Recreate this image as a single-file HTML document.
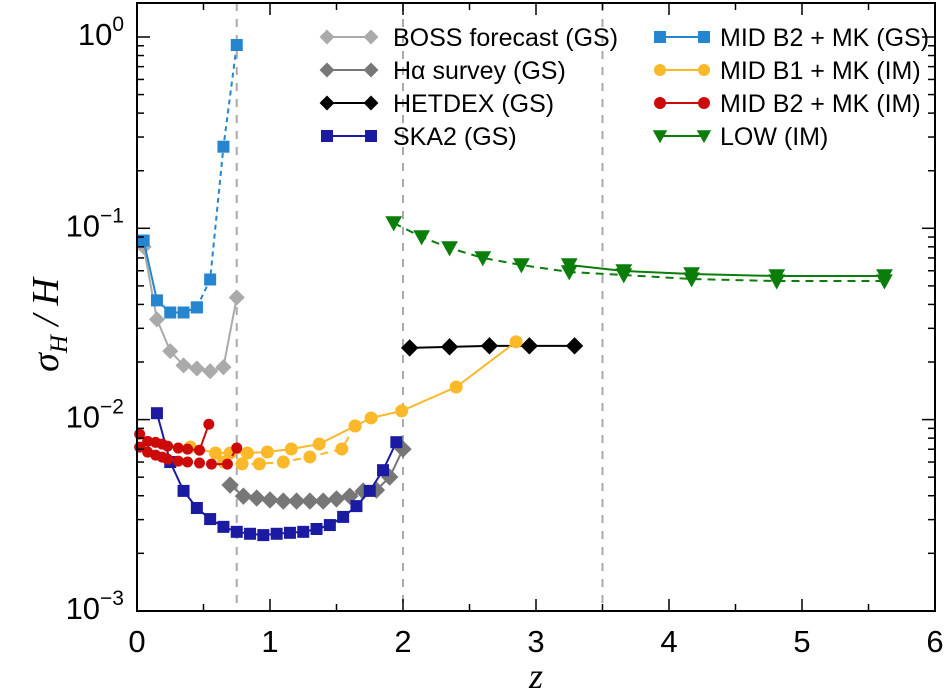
<!DOCTYPE html>
<html><head><meta charset="utf-8"><style>
html,body{margin:0;padding:0;background:#fff;}
svg{display:block;font-family:"Liberation Sans",sans-serif;}
</style></head><body>
<svg id="chart" width="952" height="696" viewBox="0 0 952 696" xmlns="http://www.w3.org/2000/svg">
<g id="grid"></g><g id="series"></g><g id="axes"></g><g id="legend"></g>
<text transform="translate(58,325) rotate(-90)" text-anchor="middle" font-family="Liberation Serif,serif" font-style="italic" font-size="38">σ<tspan font-size="25" dy="9">H</tspan><tspan dy="-9"> / H</tspan></text>
<text x="536" y="688" text-anchor="middle" font-family="Liberation Serif,serif" font-style="italic" font-size="36">z</text>
</svg>
<script>
const xTicks=[0,1,2,3,4,5,6];
const yTickExp=[0,-1,-2,-3];
const vLines=[0.75,2,3.5];
const bossZ=[0.05,0.15,0.25,0.35,0.45,0.55,0.65,0.75];
const bossV=[0.08,0.0334,0.0228,0.0192,0.0185,0.0179,0.0188,0.0435];
const haZ=[0.7,0.8,0.9,1.0,1.1,1.2,1.3,1.4,1.5,1.6,1.7,1.8,1.9,2.0];
const haV=[0.00455,0.00398,0.00389,0.0038,0.00375,0.00375,0.00375,0.00375,0.00385,0.00398,0.00423,0.00428,0.00501,0.00701];
const hetZ=[2.05,2.35,2.65,2.95,3.29];
const hetV=[0.0237,0.0240,0.0243,0.0243,0.0243];
const skaZ=[0.15,0.25,0.35,0.45,0.55,0.65,0.75,0.85,0.95,1.05,1.15,1.25,1.35,1.45,1.55,1.65,1.75,1.85,1.95];
const skaV=[0.0108,0.0060,0.00424,0.00345,0.00302,0.00275,0.00259,0.00253,0.00249,0.00253,0.00256,0.00259,0.00268,0.00281,0.0031,0.00353,0.00424,0.00544,0.00762];
const midGsZ=[0.05,0.15,0.25,0.35,0.45,0.55,0.65,0.75];
const midGsV=[0.0863,0.042,0.0363,0.0363,0.0386,0.054,0.267,0.908];
const b1Z=[0.40,0.59,0.70,0.83,0.98,1.16,1.37,1.64,1.76,1.99,2.40,2.85];
const b1V=[0.00719,0.00669,0.00669,0.00669,0.00677,0.00702,0.00745,0.00926,0.0102,0.0111,0.0148,0.0255];
const b1dZ=[0.65,0.79,0.92,1.10,1.30,1.54,1.64];
const b1dV=[0.0060,0.00587,0.00587,0.0060,0.00638,0.00702,0.00926];
const b2Z=[0.02,0.08,0.14,0.19,0.23,0.31,0.38,0.47,0.54];
const b2V=[0.0084,0.0077,0.0076,0.00744,0.00727,0.0071,0.00701,0.00692,0.00946];
const b2dZ=[0.02,0.08,0.14,0.19,0.23,0.31,0.38,0.47,0.56,0.68,0.75];
const b2dV=[0.00718,0.00676,0.00652,0.00637,0.00621,0.00607,0.0060,0.00593,0.00585,0.00585,0.0071];
const lowZ=[3.25,3.66,4.17,4.81,5.62];
const lowV=[0.0643,0.0598,0.0577,0.0563,0.0563];
const lowdZ=[1.93,2.14,2.35,2.60,2.89,3.25,3.66,4.17,4.81,5.62];
const lowdV=[0.1066,0.0901,0.0789,0.0700,0.0643,0.0591,0.0570,0.0543,0.0530,0.0530];

const X0=137,X1=935,Y0=37,DEC=191.3,YB=611,YT=3;
const sx=z=>X0+(X1-X0)*z/6;
const sy=v=>Y0-Math.log10(v)*DEC;
const NS="http://www.w3.org/2000/svg";
function mk(tag,attrs,parent){const e=document.createElementNS(NS,tag);for(const k in attrs)e.setAttribute(k,attrs[k]);parent.appendChild(e);return e;}
const G=document.getElementById('grid'),S=document.getElementById('series'),A=document.getElementById('axes'),L=document.getElementById('legend');

vLines.forEach(z=>{const l=mk('line',{x1:sx(z),x2:sx(z),y1:YT,y2:YB,stroke:'#aaa','stroke-width':2,'stroke-dasharray':'8,8'},G);

});

function marker(type,x,y,color,g,s){
 let e;
 if(type==='sq')e=mk('rect',{x:x-s/2,y:y-s/2,width:s,height:s,fill:color},g);
 else if(type==='ci')e=mk('circle',{cx:x,cy:y,r:s/2,fill:color},g);
 else if(type==='di'){const h=s*0.62;e=mk('polygon',{points:`${x},${y-h} ${x+h},${y} ${x},${y+h} ${x-h},${y}`,fill:color},g);}
 else {const h=s*0.6;e=mk('polygon',{points:`${x-h},${y-h*0.8} ${x+h},${y-h*0.8} ${x},${y+h}`,fill:color},g);}
 return e;
}
function series(name,zs,vs,color,type,dash,s){
 const g=mk('g',{},S);
 
 
 const pts=zs.map((z,i)=>sx(z)+','+sy(vs[i])).join(' ');
 const p=mk('polyline',{points:pts,fill:'none',stroke:color,'stroke-width':2},g);
 if(dash)p.setAttribute('stroke-dasharray',dash);
 
 
 zs.forEach((z,i)=>{const m=marker(type,sx(z),sy(vs[i]),color,g,s);
  
  });
}
series('boss-forecast',bossZ,bossV,'#aaaaaa','di',null,13);
series('halpha-survey',haZ,haV,'#777777','di',null,14);
series('hetdex',hetZ,hetV,'#000000','di',null,14);
series('ska2',skaZ,skaV,'#1a1aa3','sq',null,12);
series('mid-b2-mk-gs',midGsZ.slice(0,5),midGsV.slice(0,5),'#2585cf','sq',null,12);
series('mid-b2-mk-gs-dashed',midGsZ.slice(4),midGsV.slice(4),'#2585cf','sq','5,4',12);
series('mid-b1-mk-im-dashed',b1dZ,b1dV,'#fbb829','ci','8,6',13);
series('mid-b1-mk-im',b1Z,b1V,'#fbb829','ci',null,13);
series('mid-b2-mk-im-dashed',b2dZ,b2dV,'#cc0a0a','ci','6,4',11);
series('mid-b2-mk-im',b2Z,b2V,'#cc0a0a','ci',null,11);
series('low-im-dashed',lowdZ,lowdV,'#0a7d0a','tr','8,6',14);
series('low-im',lowZ,lowV,'#0a7d0a','tr',null,14);

const fr=mk('rect',{x:X0,y:YT,width:X1-X0,height:YB-YT,fill:'none',stroke:'#000','stroke-width':2},A);


for(let i=0;i<=12;i++){const z=i/2,x=sx(z),len=(i%2===0)?12:7;
 mk('line',{x1:x,x2:x,y1:YB,y2:YB-len,stroke:'#000','stroke-width':1.5},A);
 mk('line',{x1:x,x2:x,y1:YT,y2:YT+len,stroke:'#000','stroke-width':1.5},A);}
xTicks.forEach(z=>{const t=mk('text',{x:sx(z),y:652,'text-anchor':'middle','font-size':31},A);t.textContent=z;
 
 });
for(let e=-3;e<=0;e++){
 const y=sy(Math.pow(10,e));
 [[X0,X0+13],[X1,X1-13]].forEach(p=>mk('line',{x1:p[0],x2:p[1],y1:y,y2:y,stroke:'#000','stroke-width':1.5},A));
 if(e<0)for(let k=2;k<=9;k++){const yy=sy(k*Math.pow(10,e));
  [[X0,X0+7],[X1,X1-7]].forEach(p=>mk('line',{x1:p[0],x2:p[1],y1:yy,y2:yy,stroke:'#000','stroke-width':1.5},A));}
}
yTickExp.forEach(e=>{const t=mk('text',{x:124,y:sy(Math.pow(10,e))+8,'text-anchor':'end','font-size':31},A);
 t.textContent='10';
 const sp=mk('tspan',{dy:-14,'font-size':21},t);sp.textContent=(e===0?'0':'\u2212'+(-e));
 
 });

const legL=[['BOSS forecast (GS)','#aaaaaa','di'],['H\u03b1 survey (GS)','#777777','di'],['HETDEX (GS)','#000000','di'],['SKA2 (GS)','#1a1aa3','sq']];
const legR=[['MID B2 + MK (GS)','#2585cf','sq'],['MID B1 + MK (IM)','#fbb829','ci'],['MID B2 + MK (IM)','#cc0a0a','ci'],['LOW (IM)','#0a7d0a','tr']];
function legend(items,x0,x1,tx){items.forEach((it,i)=>{const y=37+i*33;
 const g=mk('g',{},L);
 
 
 mk('line',{x1:x0,x2:x1,y1:y,y2:y,stroke:it[1],'stroke-width':2},g);
 marker(it[2],x0,y,it[1],g,12);marker(it[2],x1,y,it[1],g,12);
 const t=mk('text',{x:tx,y:y+9,'font-size':25},g);t.textContent=it[0];});}
legend(legL,327,371,393);
legend(legR,660,704,720);
</script>
</body></html>
